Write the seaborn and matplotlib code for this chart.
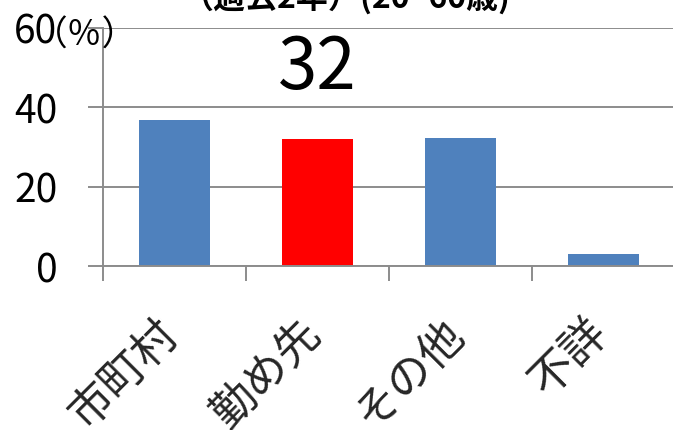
import matplotlib
matplotlib.use("Agg")
import matplotlib.pyplot as plt
import matplotlib.transforms as mtransforms
import seaborn as sns
import pandas as pd

sns.set_theme(style="white")
plt.rcParams["font.family"] = ["Noto Sans CJK JP", "DejaVu Sans"]

categories = ["市町村", "勤め先", "その他", "不詳"]
values = [36.8, 32, 32.2, 3.0]
bar_colors = ["#4F81BD", "#FF0000", "#4F81BD", "#4F81BD"]
highlight_label = "32"
highlight_index = 1
y_ticks = [0, 20, 40, 60]
title_text = "（過去2年）(20~60歳)"
unit_text = "（％）"

df = pd.DataFrame({"category": categories, "value": values})

fig = plt.figure(figsize=(6.73, 4.31), dpi=100)
ax = fig.add_axes([103 / 673, 164 / 431, 572 / 673, 238.5 / 431])

sns.barplot(data=df, x="category", y="value", hue="category",
            palette=bar_colors, width=0.5, legend=False, ax=ax,
            saturation=1, edgecolor="none")

grid_color = "#8c8c8c"
ax.set_ylim(0, 60)
ax.set_xlim(-0.5, len(categories) - 0.5)
ax.set_yticks(y_ticks)
ax.yaxis.grid(True, color=grid_color, linewidth=1.4)
ax.set_axisbelow(True)
for side in ["top", "right"]:
    ax.spines[side].set_visible(False)
for side in ["left", "bottom"]:
    ax.spines[side].set_color(grid_color)
    ax.spines[side].set_linewidth(1.4)

# tick marks sit on the category boundaries
ax.set_xticks([i - 0.5 for i in range(len(categories) + 1)])
ax.set_xticklabels([])
ax.tick_params(axis="x", which="major", length=11, width=1.4, color=grid_color,
               direction="out", bottom=True)
ax.set_xticks(range(len(categories)), minor=True)
ax.set_xticklabels(categories, minor=True, rotation=45, ha="right", va="top",
                   rotation_mode="anchor", fontsize=32)
ax.tick_params(axis="x", which="minor", length=0, pad=31)
shift = mtransforms.ScaledTranslation(-20 / 100, 0, fig.dpi_scale_trans)
for lbl in ax.get_xticklabels(minor=True):
    lbl.set_transform(lbl.get_transform() + shift)
ax.tick_params(axis="y", length=11, width=1.4, color=grid_color, left=True,
               pad=22, labelsize=28, labelcolor="black")
ax.set_xlabel("")
ax.set_ylabel("")

ax.text(highlight_index, 50, highlight_label, ha="center", va="center",
        fontsize=51, color="black")

fig.text(33 / 673, 1 - 36 / 431, unit_text, ha="left", va="center",
         fontsize=25, color="black")
fig.text(346 / 673, 1 - (-2) / 431, title_text, ha="center", va="center",
         fontsize=23, fontweight="bold", color="black")

fig.savefig("out.png", dpi=100)
